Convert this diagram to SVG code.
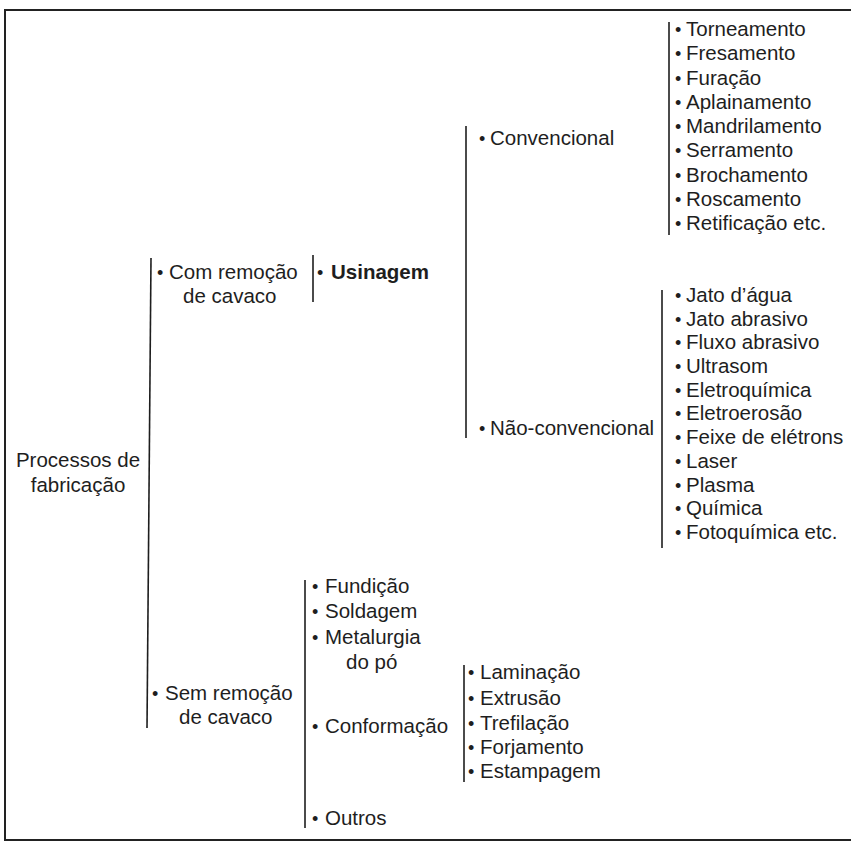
<svg xmlns="http://www.w3.org/2000/svg" width="851" height="841" viewBox="0 0 851 841">
<style>
text{font-family:"Liberation Sans",Arial,sans-serif;font-size:20.5px;fill:#1e1e1e}
.b{font-size:18px}
.bold{font-weight:bold}
.br{stroke:#1e1e1e;stroke-width:1.6;fill:none}
.frame{stroke:#222;stroke-width:2;fill:none}
</style>
<rect width="851" height="841" fill="#ffffff"/>
<path class="frame" d="M851,10 L5,10 L5,840 L851,840"/>
<g id="connectors">
<line class="br" x1="151" y1="258" x2="147" y2="728"/>
<line class="br" x1="313" y1="255" x2="313" y2="302"/>
<line class="br" x1="466" y1="126" x2="466" y2="438"/>
<line class="br" x1="669" y1="22" x2="669" y2="235"/>
<line class="br" x1="662" y1="290" x2="662" y2="548"/>
<line class="br" x1="305" y1="580" x2="305" y2="828"/>
<line class="br" x1="464" y1="665" x2="464" y2="782"/>
</g>
<g id="root"><text x="78" y="467" text-anchor="middle">Processos de</text><text x="78" y="492" text-anchor="middle">fabricação</text></g>
<g id="com"><text y="279"><tspan class="b" x="157">•</tspan><tspan x="169">Com remoção</tspan></text><text x="183" y="303">de cavaco</text></g>
<g id="usinagem"><text y="279"><tspan class="b" x="317">•</tspan><tspan class="bold" x="331">Usinagem</tspan></text></g>
<g id="convencional"><text y="145"><tspan class="b" x="479">•</tspan><tspan x="490">Convencional</tspan></text></g>
<g id="naoconvencional"><text y="435"><tspan class="b" x="479">•</tspan><tspan x="490">Não-convencional</tspan></text></g>
<g id="conv-list">
<text y="36"><tspan class="b" x="675">•</tspan><tspan x="686">Torneamento</tspan></text>
<text y="60"><tspan class="b" x="675">•</tspan><tspan x="686">Fresamento</tspan></text>
<text y="85"><tspan class="b" x="675">•</tspan><tspan x="686">Furação</tspan></text>
<text y="109"><tspan class="b" x="675">•</tspan><tspan x="686">Aplainamento</tspan></text>
<text y="133"><tspan class="b" x="675">•</tspan><tspan x="686">Mandrilamento</tspan></text>
<text y="157"><tspan class="b" x="675">•</tspan><tspan x="686">Serramento</tspan></text>
<text y="182"><tspan class="b" x="675">•</tspan><tspan x="686">Brochamento</tspan></text>
<text y="206"><tspan class="b" x="675">•</tspan><tspan x="686">Roscamento</tspan></text>
<text y="230"><tspan class="b" x="675">•</tspan><tspan x="686">Retificação etc.</tspan></text>
</g>
<g id="nconv-list">
<text y="302"><tspan class="b" x="675">•</tspan><tspan x="686">Jato d’água</tspan></text>
<text y="326"><tspan class="b" x="675">•</tspan><tspan x="686">Jato abrasivo</tspan></text>
<text y="349"><tspan class="b" x="675">•</tspan><tspan x="686">Fluxo abrasivo</tspan></text>
<text y="373"><tspan class="b" x="675">•</tspan><tspan x="686">Ultrasom</tspan></text>
<text y="397"><tspan class="b" x="675">•</tspan><tspan x="686">Eletroquímica</tspan></text>
<text y="420"><tspan class="b" x="675">•</tspan><tspan x="686">Eletroerosão</tspan></text>
<text y="444"><tspan class="b" x="675">•</tspan><tspan x="686">Feixe de elétrons</tspan></text>
<text y="468"><tspan class="b" x="675">•</tspan><tspan x="686">Laser</tspan></text>
<text y="492"><tspan class="b" x="675">•</tspan><tspan x="686">Plasma</tspan></text>
<text y="515"><tspan class="b" x="675">•</tspan><tspan x="686">Química</tspan></text>
<text y="539"><tspan class="b" x="675">•</tspan><tspan x="686">Fotoquímica etc.</tspan></text>
</g>
<g id="sem"><text y="700"><tspan class="b" x="152">•</tspan><tspan x="165">Sem remoção</tspan></text><text x="179" y="724">de cavaco</text></g>
<g id="sem-list">
<text y="593"><tspan class="b" x="312">•</tspan><tspan x="325">Fundição</tspan></text>
<text y="618"><tspan class="b" x="312">•</tspan><tspan x="325">Soldagem</tspan></text>
<text y="644"><tspan class="b" x="312">•</tspan><tspan x="325">Metalurgia</tspan></text>
<text x="346" y="669">do pó</text>
<text y="733"><tspan class="b" x="312">•</tspan><tspan x="325">Conformação</tspan></text>
<text y="825"><tspan class="b" x="312">•</tspan><tspan x="325">Outros</tspan></text>
</g>
<g id="conformacao-list">
<text y="679"><tspan class="b" x="468">•</tspan><tspan x="480">Laminação</tspan></text>
<text y="705"><tspan class="b" x="468">•</tspan><tspan x="480">Extrusão</tspan></text>
<text y="730"><tspan class="b" x="468">•</tspan><tspan x="480">Trefilação</tspan></text>
<text y="754"><tspan class="b" x="468">•</tspan><tspan x="480">Forjamento</tspan></text>
<text y="778"><tspan class="b" x="468">•</tspan><tspan x="480">Estampagem</tspan></text>
</g>
</svg>
